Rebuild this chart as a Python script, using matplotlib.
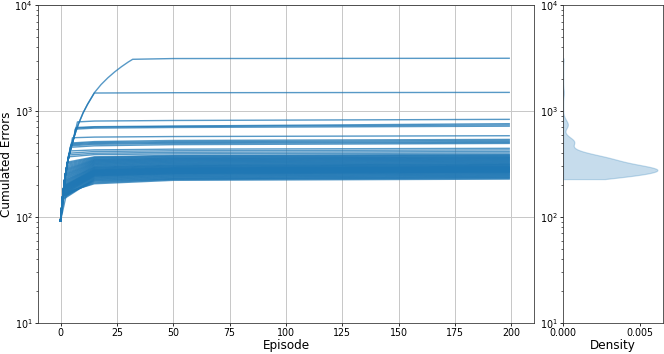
import numpy as np
import matplotlib
matplotlib.use("Agg")
import matplotlib.pyplot as plt

# shared early climb that the worst runs follow (episode, cumulated errors)
climb_ep = [0, 1, 2, 3, 4, 6, 8, 10, 12, 15, 18, 21, 24, 27, 30]
climb_err = [92, 160, 240, 320, 400, 570, 760, 960, 1160, 1490, 1780, 2060, 2340, 2620, 2900]
last_episode = 199

# per run: episode where it levels off, errors there, and errors at ep 15 / 50 / end
knee_ep = [32, 15, 7.5, 7.0, 6.8, 6.5, 5.3, 5.0, 4.8, 4.6, 4.5, 4.3, 4.0, 3.8, 3.6, 3.4,
           3.2, 3.1, 3.0, 3.0, 2.9, 2.8, 2.8, 2.7, 2.6, 2.6, 2.5, 2.5, 2.4, 2.4, 2.3,
           2.3, 2.2, 2.2, 2.1, 2.1, 2.0, 2.0, 2.0, 1.9, 1.9, 1.9, 1.8, 1.8, 1.8, 1.8,
           1.7, 1.7, 1.7, 1.7, 1.6, 1.6, 1.6, 1.6, 1.5, 1.5, 1.5, 1.5, 1.5, 1.4, 1.4,
           1.4, 1.4, 1.4, 2.5, 3.0, 3.2, 3.5, 3.8, 4.0]
knee_err = [3080, 1480, 790, 700, 690, 675, 560, 500, 490, 480, 470, 455, 420, 400, 385, 370,
            330, 322, 314, 306, 298, 290, 284, 278, 272, 266, 260, 255, 250, 245, 240,
            235, 230, 225, 221, 217, 213, 209, 205, 201, 199, 197, 195, 193, 191, 189,
            187, 185, 183, 181, 179, 177, 175, 173, 171, 169, 167, 165, 163, 160, 157,
            154, 151, 148, 160, 163, 166, 169, 172, 175]
err_ep15 = [1490, 1480, 805, 712, 705, 690, 568, 515, 505, 495, 485, 470, 430, 415, 400, 388,
            370, 365, 360, 355, 350, 346, 342, 338, 334, 330, 326, 322, 318, 314, 310,
            306, 302, 298, 295, 292, 289, 286, 283, 280, 278, 276, 274, 272, 270, 268,
            266, 264, 262, 260, 258, 256, 254, 252, 250, 248, 246, 244, 242, 239, 236,
            233, 230, 227, 224, 221, 218, 214, 210, 206]
err_ep50 = [3130, 1490, 815, 722, 715, 700, 575, 528, 515, 505, 495, 482, 437, 422, 408, 395,
            382, 377, 372, 367, 362, 358, 354, 350, 346, 342, 338, 334, 330, 326, 322,
            318, 314, 310, 307, 304, 301, 298, 295, 292, 290, 288, 286, 284, 282, 280,
            278, 276, 274, 272, 270, 268, 266, 264, 262, 260, 258, 256, 254, 251, 248,
            245, 242, 239, 236, 233, 230, 228, 226, 222]
final_err = [3150, 1500, 835, 760, 740, 720, 585, 540, 528, 515, 505, 495, 445, 430, 415, 402,
             390, 385, 380, 375, 370, 366, 362, 358, 354, 350, 346, 342, 338, 334, 330,
             326, 322, 318, 315, 312, 309, 306, 303, 300, 298, 296, 294, 292, 290, 288,
             286, 284, 282, 280, 278, 276, 274, 272, 270, 268, 266, 264, 262, 259, 256,
             253, 250, 247, 244, 241, 238, 235, 232, 228]

color = "#1f77b4"

# drawn at 72 dpi so default sizes come out like the (scaled down) original
fig = plt.figure(figsize=(664 / 72, 354 / 72), dpi=72)
ax = fig.add_axes([0.0572, 0.0876, 0.747, 0.898])
ax_kde = fig.add_axes([0.848, 0.0876, 0.1506, 0.898])

for i in range(len(final_err)):
    pts = [(e, v) for e, v in zip(climb_ep, climb_err)
           if e < knee_ep[i] and (v < knee_err[i] or e == 0)]
    pts.append((knee_ep[i], knee_err[i]))
    if knee_ep[i] < 15:
        pts.append((15, err_ep15[i]))
    pts.append((50, err_ep50[i]))
    pts.append((last_episode, final_err[i]))
    xs, ys = zip(*pts)
    ax.plot(xs, ys, color=color, lw=1.4, alpha=0.75)

ax.set_yscale("log")
ax.set_ylim(10, 1e4)
ax.set_xlim(-10, 210)
ax.set_xticks(np.arange(0, 201, 25))
ax.grid(True, color="#c8c8c8", lw=1.0)
ax.set_axisbelow(True)
ax.set_xlabel("Episode", fontsize=12, labelpad=1)
ax.set_ylabel("Cumulated Errors", fontsize=12, labelpad=1)

# density of final cumulated errors, gaussian kde on log10 values, cut at data range
lv = np.log10(np.array(final_err, dtype=float))
bw = 0.035
grid = np.linspace(lv.min(), lv.max(), 800)
f_log = np.exp(-0.5 * ((grid[:, None] - lv[None, :]) / bw) ** 2).sum(axis=1)
f_log /= len(lv) * bw * np.sqrt(2 * np.pi)
yy = 10 ** grid
dens = f_log / (yy * np.log(10))
ax_kde.fill_betweenx(yy, 0, dens, color=color, alpha=0.25, lw=1.2)

ax_kde.set_yscale("log")
ax_kde.set_ylim(10, 1e4)
ax_kde.set_xlim(0, dens.max() * 1.06)
ax_kde.set_xticks([0, 0.005])
ax_kde.set_xticklabels(["0.000", "0.005"])
ax_kde.set_xlabel("Density", fontsize=12, labelpad=1)

for a in (ax, ax_kde):
    a.tick_params(which="major", labelsize=9.5, pad=2.5, length=3)
    a.tick_params(which="minor", length=2)
    for s in a.spines.values():
        s.set_color("#333333")

fig.savefig("out.png", dpi=72)
